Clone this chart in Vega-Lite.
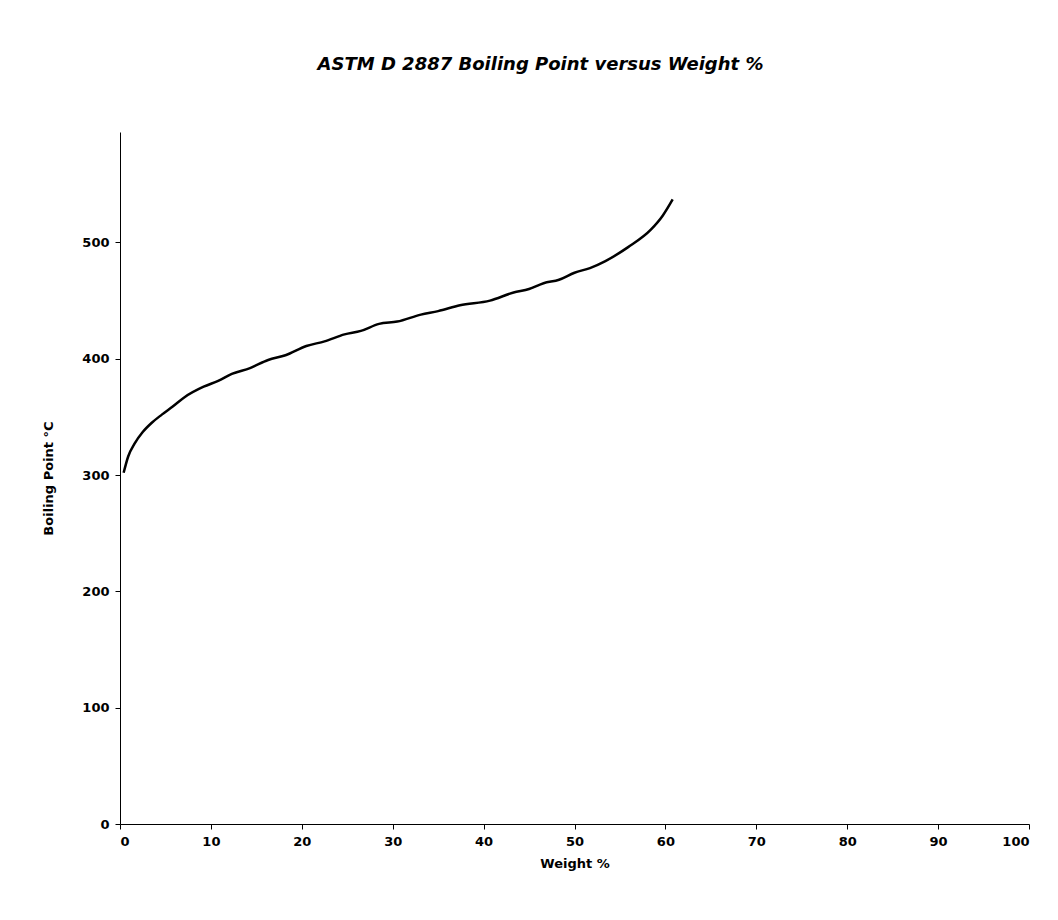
{
  "$schema": "https://vega.github.io/schema/vega-lite/v6.json",
  "width": 909,
  "height": 692,
  "autosize": {"type": "none"},
  "padding": {"left": 120, "top": 132, "right": 29, "bottom": 96},
  "background": "white",
  "config": {"view": {"stroke": null}},
  "title": {
    "text": "ASTM D 2887 Boiling Point versus Weight %",
    "font": "DejaVu Sans",
    "fontSize": 18,
    "fontWeight": "bold",
    "fontStyle": "italic",
    "color": "black",
    "anchor": "middle",
    "dx": -34,
    "offset": 58
  },
  "data": {
    "values": [
      {"w": 0.4, "bp": 302},
      {"w": 0.9, "bp": 316},
      {"w": 1.6, "bp": 327},
      {"w": 2.5, "bp": 337},
      {"w": 3.5, "bp": 345},
      {"w": 4.6, "bp": 352},
      {"w": 5.8, "bp": 359},
      {"w": 7.1, "bp": 367},
      {"w": 9.2, "bp": 376},
      {"w": 10.8, "bp": 381},
      {"w": 12.3, "bp": 387},
      {"w": 14.3, "bp": 392},
      {"w": 16.3, "bp": 399},
      {"w": 18.2, "bp": 403},
      {"w": 20.5, "bp": 411},
      {"w": 22.5, "bp": 415},
      {"w": 24.7, "bp": 421},
      {"w": 26.5, "bp": 424},
      {"w": 28.5, "bp": 430},
      {"w": 30.5, "bp": 432},
      {"w": 33.1, "bp": 438},
      {"w": 35.0, "bp": 441},
      {"w": 37.4, "bp": 446},
      {"w": 40.7, "bp": 450},
      {"w": 43.3, "bp": 457},
      {"w": 45.0, "bp": 460},
      {"w": 46.6, "bp": 465},
      {"w": 48.3, "bp": 468},
      {"w": 50.0, "bp": 474},
      {"w": 51.7, "bp": 478},
      {"w": 53.4, "bp": 484},
      {"w": 55.9, "bp": 496},
      {"w": 58.4, "bp": 511},
      {"w": 59.7, "bp": 523},
      {"w": 60.8, "bp": 537}
    ]
  },
  "mark": {"type": "line", "color": "black", "strokeWidth": 2.5, "interpolate": "monotone"},
  "encoding": {
    "x": {
      "field": "w",
      "type": "quantitative",
      "scale": {"domain": [0, 100], "nice": false, "zero": false},
      "axis": {
        "title": "Weight %",
        "values": [0, 10, 20, 30, 40, 50, 60, 70, 80, 90, 100],
        "grid": false,
        "domainColor": "black",
        "tickColor": "black",
        "tickSize": 5,
        "labelFont": "DejaVu Sans",
        "labelFontSize": 13,
        "labelFontWeight": "bold",
        "labelColor": "black",
        "labelPadding": 6,
        "titleFont": "DejaVu Sans",
        "titleFontSize": 13,
        "titleFontWeight": "bold",
        "titleColor": "black",
        "titlePadding": 9
      }
    },
    "y": {
      "field": "bp",
      "type": "quantitative",
      "scale": {"domain": [0, 595], "nice": false, "zero": false},
      "axis": {
        "title": "Boiling Point °C",
        "values": [0, 100, 200, 300, 400, 500],
        "grid": false,
        "domainColor": "black",
        "tickColor": "black",
        "tickSize": 5,
        "labelFont": "DejaVu Sans",
        "labelFontSize": 13,
        "labelFontWeight": "bold",
        "labelColor": "black",
        "labelPadding": 6,
        "titleFont": "DejaVu Sans",
        "titleFontSize": 13,
        "titleFontWeight": "bold",
        "titleColor": "black",
        "titlePadding": 26
      }
    }
  }
}
